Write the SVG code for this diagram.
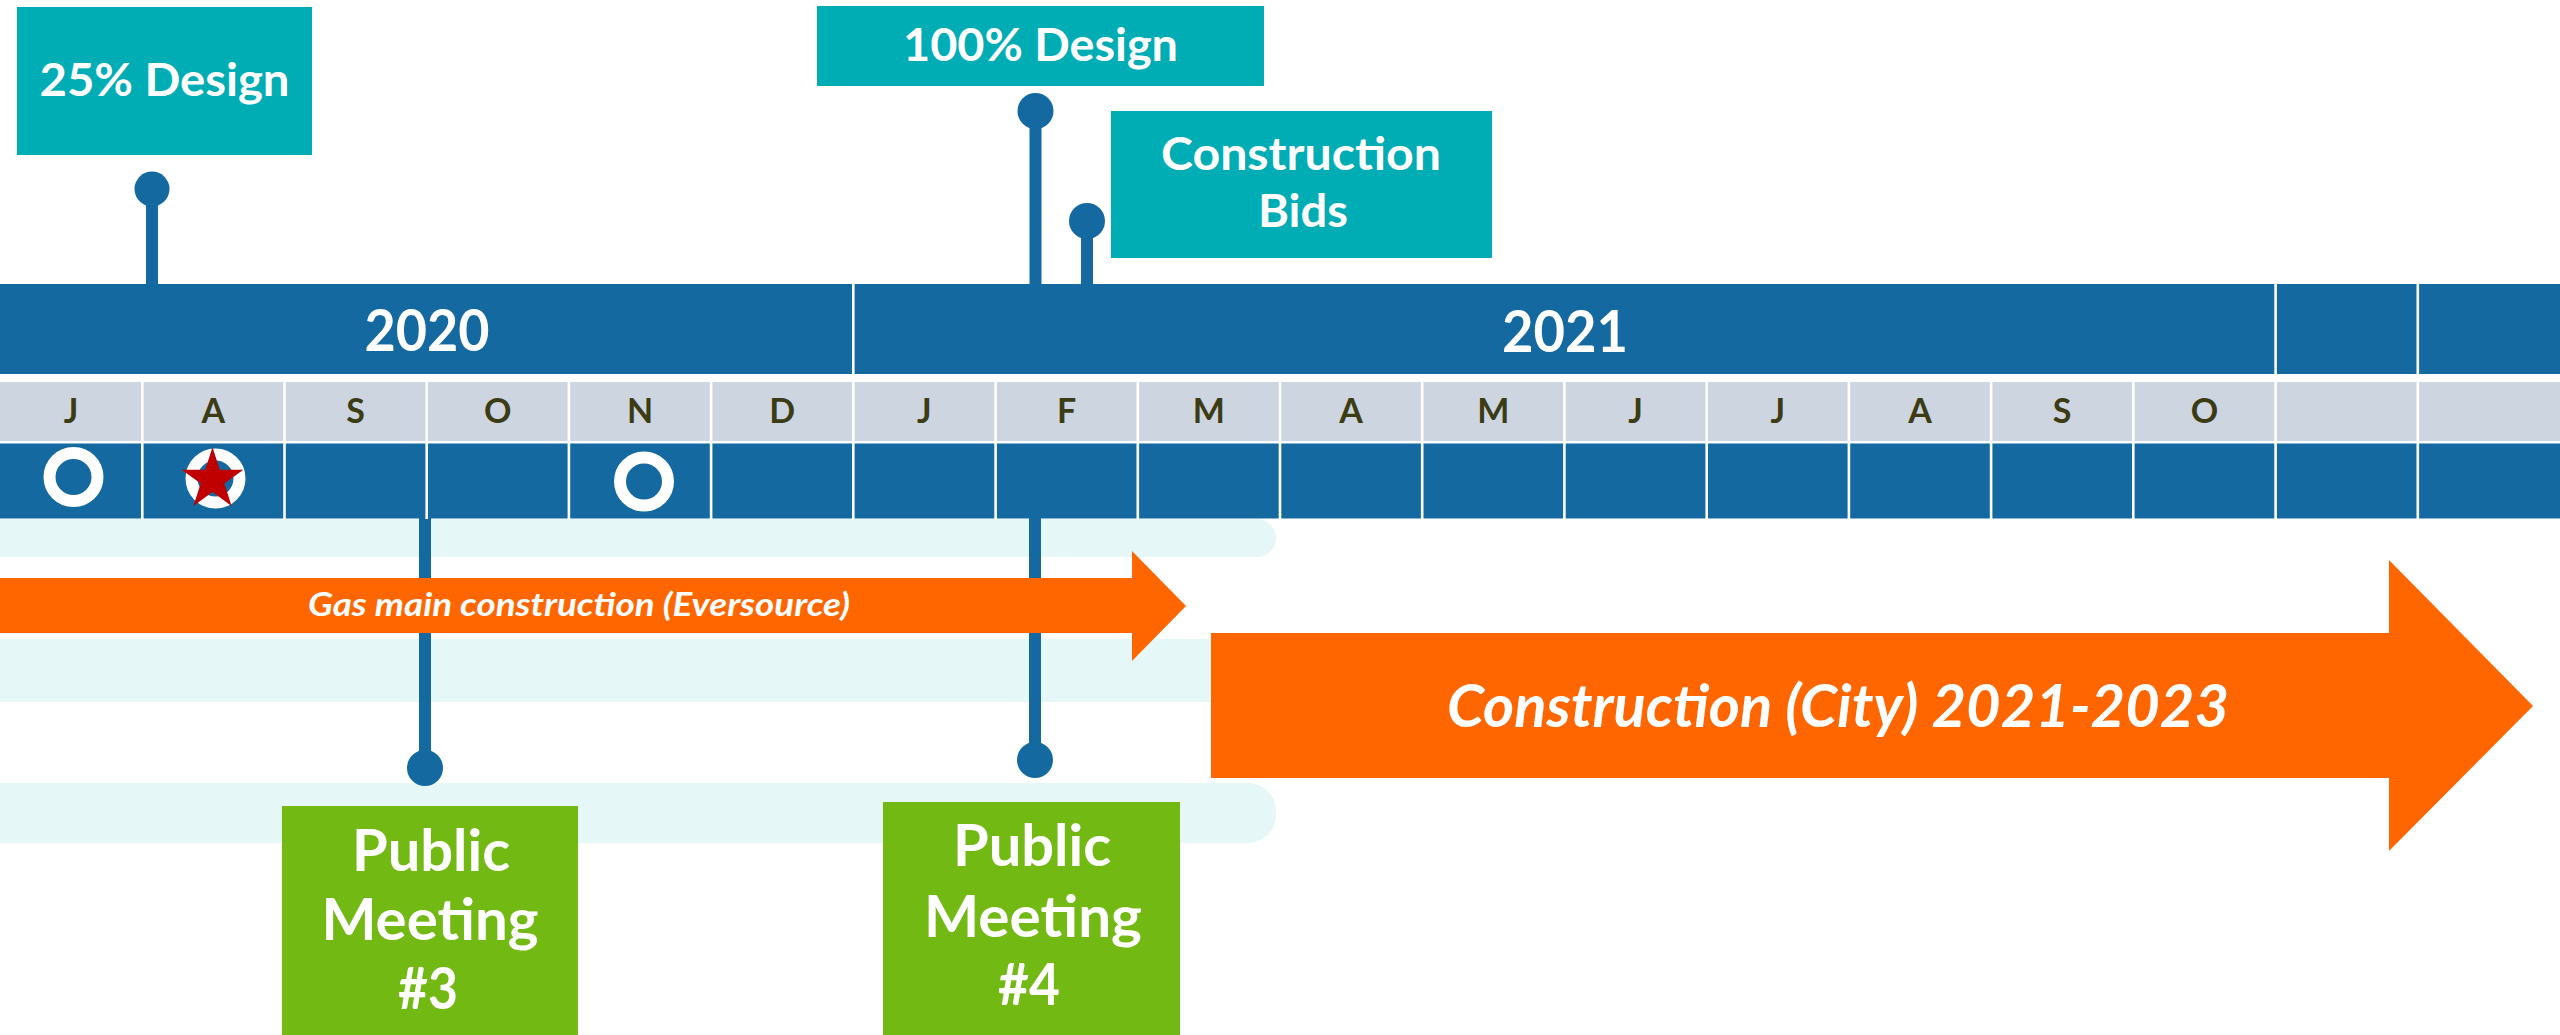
<svg xmlns="http://www.w3.org/2000/svg" width="2560" height="1035" viewBox="0 0 2560 1035">
<style>
.blue{fill:#1469A0}
.teal{fill:#00ADB4}
.green{fill:#73B913}
.orange{fill:#FF6600}
.band{fill:#E6F7F7}
.mrow{fill:#CDD5E0}
.sep{fill:#FFFFFF}
.lbl{font-family:Lato,"Open Sans","Liberation Sans",sans-serif;font-weight:bold;fill:#FFFFFF;text-anchor:middle}
.box{font-size:46px}
.pm{font-size:58px}
.year{font-size:57px}
.mon{font-family:Lato,"Open Sans","Liberation Sans",sans-serif;font-weight:bold;font-size:34px;fill:#3C3C14;text-anchor:middle}
.it{font-family:Lato,"Open Sans","Liberation Sans",sans-serif;font-weight:bold;font-style:italic;fill:#FFFFFF;text-anchor:middle}
.stem{fill:#1469A0}
.ring{fill:none;stroke:#FFFFFF;stroke-width:12}
</style>
<rect width="2560" height="1035" fill="#FFFFFF"/>

<g id="bands">
  <rect class="band" x="-40" y="519" width="1316" height="38" rx="19"/>
  <rect class="band" x="-40" y="639" width="1316" height="63" rx="28"/>
  <rect class="band" x="-40" y="783" width="1316" height="60" rx="28"/>
</g>

<g id="connectors">
  <rect class="stem" x="146" y="189" width="12" height="100"/>
  <circle class="stem" cx="152" cy="189" r="17.5"/>
  <rect class="stem" x="1029.5" y="111" width="12" height="178"/>
  <circle class="stem" cx="1035.5" cy="111" r="18"/>
  <rect class="stem" x="1081" y="221" width="12" height="68"/>
  <circle class="stem" cx="1087" cy="221" r="18"/>
  <rect class="stem" x="419" y="515" width="12" height="253"/>
  <circle class="stem" cx="425" cy="768" r="18"/>
  <rect class="stem" x="1029" y="515" width="12" height="245"/>
  <circle class="stem" cx="1035" cy="760" r="18"/>
</g>

<g id="timeline">
  <rect class="blue" x="0" y="284" width="2560" height="90"/>
  <rect class="sep" x="852" y="284" width="2.6" height="90"/>
  <rect class="sep" x="2274.3" y="284" width="2.6" height="90"/>
  <rect class="sep" x="2416.5" y="284" width="2.6" height="90"/>
  <text class="lbl year" x="427" y="351" textLength="125" lengthAdjust="spacingAndGlyphs">2020</text>
  <text class="lbl year" x="1565" y="352" textLength="126" lengthAdjust="spacingAndGlyphs">2021</text>

  <rect class="mrow" x="0" y="382" width="2560" height="59"/>
  <rect class="blue" x="0" y="443.5" width="2560" height="75"/>
  <g class="sep">
    <rect x="141" y="382" width="2.6" height="137"/>
    <rect x="283.2" y="382" width="2.6" height="137"/>
    <rect x="425.4" y="382" width="2.6" height="137"/>
    <rect x="567.6" y="382" width="2.6" height="137"/>
    <rect x="709.8" y="382" width="2.6" height="137"/>
    <rect x="852" y="382" width="2.6" height="137"/>
    <rect x="994.3" y="382" width="2.6" height="137"/>
    <rect x="1136.5" y="382" width="2.6" height="137"/>
    <rect x="1278.7" y="382" width="2.6" height="137"/>
    <rect x="1420.9" y="382" width="2.6" height="137"/>
    <rect x="1563.1" y="382" width="2.6" height="137"/>
    <rect x="1705.4" y="382" width="2.6" height="137"/>
    <rect x="1847.6" y="382" width="2.6" height="137"/>
    <rect x="1989.8" y="382" width="2.6" height="137"/>
    <rect x="2132" y="382" width="2.6" height="137"/>
    <rect x="2274.3" y="382" width="2.6" height="137"/>
    <rect x="2416.5" y="382" width="2.6" height="137"/>
  </g>
  <g>
    <text class="mon" x="71" y="423">J</text>
    <text class="mon" x="213.3" y="423">A</text>
    <text class="mon" x="355.5" y="423">S</text>
    <text class="mon" x="497.7" y="423">O</text>
    <text class="mon" x="640" y="423">N</text>
    <text class="mon" x="782.2" y="423">D</text>
    <text class="mon" x="924.4" y="423">J</text>
    <text class="mon" x="1066.7" y="423">F</text>
    <text class="mon" x="1208.9" y="423">M</text>
    <text class="mon" x="1351.1" y="423">A</text>
    <text class="mon" x="1493.3" y="423">M</text>
    <text class="mon" x="1635.6" y="423">J</text>
    <text class="mon" x="1777.8" y="423">J</text>
    <text class="mon" x="1920" y="423">A</text>
    <text class="mon" x="2062.2" y="423">S</text>
    <text class="mon" x="2204.4" y="423">O</text>
  </g>
  <circle class="ring" cx="73.5" cy="477" r="24"/>
  <circle class="ring" cx="215.5" cy="478.5" r="24"/>
  <polygon fill="#C00000" points="212.5,447.3 219.8,469.8 243.3,469.8 224.3,483.6 231.6,506 212.5,492.1 193.4,506 200.7,483.6 181.7,469.8 205.2,469.8"/>
  <circle class="ring" cx="644" cy="481.5" r="24"/>
</g>

<g id="gas-main">
  <polygon class="orange" points="0,578 1132,578 1132,551 1186,606 1132,661 1132,633 0,633"/>
  <text class="it" x="579" y="616" font-size="32" textLength="542" lengthAdjust="spacingAndGlyphs">Gas main construction (Eversource)</text>
</g>

<g id="construction-city">
  <polygon class="orange" points="1211,633 2389,633 2389,560 2533,706 2389,851 2389,778 1211,778"/>
  <text class="it" x="1838" y="727" font-size="59" textLength="782" lengthAdjust="spacingAndGlyphs">Construction (City) 2021-2023</text>
</g>

<g id="design-25">
  <rect class="teal" x="17" y="7" width="295" height="148"/>
  <text class="lbl box" x="164.5" y="96" textLength="250" lengthAdjust="spacingAndGlyphs">25% Design</text>
</g>

<g id="design-100">
  <rect class="teal" x="817" y="6" width="447" height="80"/>
  <text class="lbl box" x="1040.5" y="61" textLength="275" lengthAdjust="spacingAndGlyphs">100% Design</text>
</g>

<g id="construction-bids">
  <rect class="teal" x="1111" y="111" width="381" height="147"/>
  <text class="lbl box" x="1301" y="170" textLength="280" lengthAdjust="spacingAndGlyphs">Construction</text>
  <text class="lbl box" x="1303" y="227" textLength="90" lengthAdjust="spacingAndGlyphs">Bids</text>
</g>

<g id="public-meeting-3">
  <rect class="green" x="282" y="806" width="296" height="240"/>
  <text class="lbl pm" x="431" y="871" textLength="158" lengthAdjust="spacingAndGlyphs">Public</text>
  <text class="lbl pm" x="430" y="940" textLength="217" lengthAdjust="spacingAndGlyphs">Meeting</text>
  <text class="lbl pm" x="428" y="1009" textLength="60" lengthAdjust="spacingAndGlyphs">#3</text>
</g>

<g id="public-meeting-4">
  <rect class="green" x="883" y="802" width="297" height="240"/>
  <text class="lbl pm" x="1032" y="866" textLength="158" lengthAdjust="spacingAndGlyphs">Public</text>
  <text class="lbl pm" x="1033" y="937" textLength="218" lengthAdjust="spacingAndGlyphs">Meeting</text>
  <text class="lbl pm" x="1029" y="1005" textLength="62" lengthAdjust="spacingAndGlyphs">#4</text>
</g>
</svg>
